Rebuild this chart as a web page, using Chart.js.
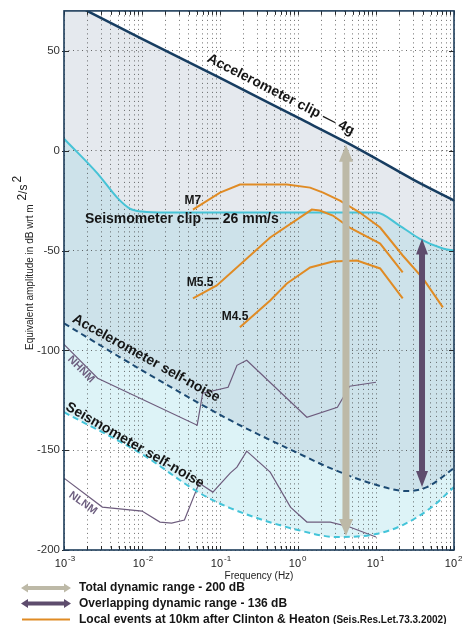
<!DOCTYPE html>
<html>
<head>
<meta charset="utf-8">
<script src="https://cdn.jsdelivr.net/npm/chart.js@4.4.1/dist/chart.umd.min.js"></script>
<style>
  html, body { margin: 0; padding: 0; background: #fff; }
  #wrap { width: 470px; height: 624px; }
</style>
</head>
<body>
<div id="wrap"><canvas id="chart" width="470" height="624"></canvas></div>
<script>
// 데이터 (frequency in Hz, amplitude in dB)
var accClipF = [0.001, 0.01, 0.1, 1, 4, 10, 30, 100];
var accClipDb = [76, 56, 36.5, 16.5, 4.5, -4, -14.5, -25];

var seisClipF = [0.001, 0.0027, 0.0048, 0.007, 0.01, 0.02, 10, 20, 36, 72, 100];
var seisClipDb = [6, -11.5, -23.5, -29, -30.5, -31, -31, -37.5, -44, -49, -50];

var accNoiseF = [0.001, 0.01, 0.135, 1, 2.6, 8.5, 25, 45, 100];
var accNoiseDb = [-86.5, -110, -135, -151.5, -159, -166.5, -170.5, -168.5, -159];

var seisNoiseF = [0.001, 0.01, 0.055, 0.135, 1, 3.2, 10, 22, 50, 100];
var seisNoiseDb = [-131, -152, -171.5, -179, -190, -193.5, -192, -187.5, -179, -168.5];

var nhnmF = [0.001, 0.0027, 0.051, 0.06, 0.127, 0.165, 0.22, 1.3, 3.2, 4.6, 10];
var nhnmDb = [-97, -114, -137.5, -121.5, -118.5, -107.5, -105, -133.5, -128.5, -118, -116];

var nlnmF = [0.001, 0.0031, 0.01, 0.017, 0.024, 0.035, 0.054, 0.081, 0.135, 0.165, 0.22, 0.44, 0.8, 1.3, 2.6, 4.6, 10];
var nlnmDb = [-164, -178.5, -180.5, -186, -186.5, -185, -166.5, -171, -161.5, -158.5, -150.5, -161, -178.5, -186, -186, -188.5, -193.5];

var m7F = [0.045, 0.1, 0.18, 0.72, 1.43, 2.1, 3.45, 6.2, 11.3, 22, 40, 72];
var m7Db = [-29.5, -21, -17, -17, -18.5, -21, -25, -31, -38.5, -52.5, -64, -78.5];

var m55F = [0.045, 0.091, 0.44, 1.5, 1.9, 2.8, 4.6, 11.3, 22];
var m55Db = [-74, -67.5, -43.5, -29.5, -30, -32.5, -38.5, -46.5, -61];

var m45F = [0.18, 0.44, 0.72, 1.43, 2.8, 5.7, 11.3, 22];
var m45Db = [-88.5, -75, -66.5, -58.5, -55.5, -55, -59, -74];

var totalRangeF = 4.12;
var totalRangeDb = [3, -193];
var overlapRangeF = 38.9;
var overlapRangeDb = [-44, -168.5];

var yTicks = [-200, -150, -100, -50, 0, 50];
var xDecades = [-3, -2, -1, 0, 1, 2];

function pts(f, d) {
    var out = [];
    for (var i = 0; i < f.length; i++) out.push({x: f[i], y: d[i]});
    return out;
}

var FONT = "'Liberation Sans', Arial, sans-serif";

function arrow(ctx, x, y1, y2, shaft, headW, headL, color, horiz) {
    // 양쪽 화살표
    ctx.save();
    ctx.fillStyle = color;
    ctx.beginPath();
    if (!horiz) {
        var top = Math.min(y1, y2), bot = Math.max(y1, y2);
        ctx.moveTo(x, top);
        ctx.lineTo(x + headW / 2, top + headL);
        ctx.lineTo(x + shaft / 2, top + headL);
        ctx.lineTo(x + shaft / 2, bot - headL);
        ctx.lineTo(x + headW / 2, bot - headL);
        ctx.lineTo(x, bot);
        ctx.lineTo(x - headW / 2, bot - headL);
        ctx.lineTo(x - shaft / 2, bot - headL);
        ctx.lineTo(x - shaft / 2, top + headL);
        ctx.lineTo(x - headW / 2, top + headL);
    } else {
        var l = Math.min(y1, y2), r = Math.max(y1, y2), y = x;
        ctx.moveTo(l, y);
        ctx.lineTo(l + headL, y - headW / 2);
        ctx.lineTo(l + headL, y - shaft / 2);
        ctx.lineTo(r - headL, y - shaft / 2);
        ctx.lineTo(r - headL, y - headW / 2);
        ctx.lineTo(r, y);
        ctx.lineTo(r - headL, y + headW / 2);
        ctx.lineTo(r - headL, y + shaft / 2);
        ctx.lineTo(l + headL, y + shaft / 2);
        ctx.lineTo(l + headL, y + headW / 2);
    }
    ctx.closePath();
    ctx.fill();
    ctx.restore();
}

function label(ctx, text, x, y, deg, font, color, align) {
    ctx.save();
    ctx.translate(x, y);
    ctx.rotate(deg * Math.PI / 180);
    ctx.font = font;
    ctx.fillStyle = color;
    ctx.textAlign = align || 'center';
    ctx.textBaseline = 'middle';
    ctx.fillText(text, 0, 0);
    ctx.restore();
}

var notes = [
    {t: 'Accelerometer clip \u2014 4g', f: 0.6, db: 28, a: 27, align: 'center'},
    {t: 'Seismometer clip \u2014 26 mm/s', f: 0.00186, db: -34.5, a: 0, align: 'left'},
    {t: 'Accelerometer self-noise', f: 0.0113, db: -104, a: 29, align: 'center'},
    {t: 'Seismometer self-noise', f: 0.0081, db: -147.5, a: 30, align: 'center'}
];

var annot = {
    id: 'annot',
    afterDatasetsDraw: function (chart) {
        var ctx = chart.ctx, xs = chart.scales.x, ys = chart.scales.y, ca = chart.chartArea;

        // 화살표
        arrow(ctx, xs.getPixelForValue(totalRangeF), ys.getPixelForValue(totalRangeDb[0]),
            ys.getPixelForValue(totalRangeDb[1]), 7, 14, 17, '#bdb9a7');
        arrow(ctx, xs.getPixelForValue(overlapRangeF), ys.getPixelForValue(overlapRangeDb[0]),
            ys.getPixelForValue(overlapRangeDb[1]), 6, 12, 16, '#5e4c6d');

        // 곡선 라벨
        notes.forEach(function (n) {
            label(ctx, n.t, xs.getPixelForValue(n.f), ys.getPixelForValue(n.db), n.a,
                'bold 14px ' + FONT, '#151515', n.align);
        });
        label(ctx, 'NHNM', xs.getPixelForValue(0.00165), ys.getPixelForValue(-109.5), 45,
            'bold 11px ' + FONT, '#6e5f80');
        label(ctx, 'NLNM', xs.getPixelForValue(0.00175), ys.getPixelForValue(-176.5), 35,
            'bold 11px ' + FONT, '#6e5f80');
        label(ctx, 'M7', xs.getPixelForValue(0.045), ys.getPixelForValue(-25), 0, 'bold 12px ' + FONT, '#151515');
        label(ctx, 'M5.5', xs.getPixelForValue(0.0555), ys.getPixelForValue(-66.25), 0, 'bold 12px ' + FONT, '#151515');
        label(ctx, 'M4.5', xs.getPixelForValue(0.1556), ys.getPixelForValue(-83), 0, 'bold 12px ' + FONT, '#151515');

        // 눈금
        ctx.save();
        ctx.strokeStyle = '#2a2a2a';
        ctx.lineWidth = 1;
        xs.ticks.forEach(function (t) {
            var px = Math.round(xs.getPixelForValue(t.value)) + 0.5;
            var len = 4;
            ctx.beginPath();
            ctx.moveTo(px, ca.bottom); ctx.lineTo(px, ca.bottom - len);
            ctx.moveTo(px, ca.top); ctx.lineTo(px, ca.top + len);
            ctx.stroke();
        });
        yTicks.forEach(function (v) {
            var py = Math.round(ys.getPixelForValue(v)) + 0.5;
            ctx.beginPath();
            ctx.moveTo(ca.left - 2, py); ctx.lineTo(ca.left + 5, py);
            ctx.moveTo(ca.right, py); ctx.lineTo(ca.right - 5, py);
            ctx.stroke();
        });
        ctx.restore();

        // 테두리
        ctx.save();
        ctx.strokeStyle = '#1d3c5a';
        ctx.lineWidth = 1.6;
        ctx.strokeRect(ca.left, ca.top, ca.right - ca.left, ca.bottom - ca.top);
        ctx.restore();

        // x 눈금 라벨 10^n
        ctx.save();
        ctx.fillStyle = '#222';
        ctx.textBaseline = 'alphabetic';
        xDecades.forEach(function (e) {
            var px = xs.getPixelForValue(Math.pow(10, e));
            ctx.font = '11px ' + FONT;
            ctx.textAlign = 'right';
            ctx.fillText('10', px + 3, 567);
            ctx.font = '8px ' + FONT;
            ctx.textAlign = 'left';
            ctx.fillText(String(e), px + 4, 561);
        });
        ctx.font = '10px ' + FONT;
        ctx.textAlign = 'center';
        ctx.fillText('Frequency (Hz)', 259, 579);
        ctx.restore();

        // y 축 제목
        ctx.save();
        ctx.translate(30, 350);
        ctx.rotate(-Math.PI / 2);
        ctx.fillStyle = '#222';
        ctx.textBaseline = 'middle';
        ctx.textAlign = 'left';
        ctx.font = '10px ' + FONT;
        var main = 'Equivalent amplitude in dB wrt m ';
        ctx.fillText(main, 0, 0);
        var w = ctx.measureText(main).width;
        ctx.font = '12px ' + FONT;
        ctx.fillText('2', w + 1, -7);
        var w2 = ctx.measureText('2').width;
        ctx.fillText('/s', w + 1 + w2, -6);
        var w3 = ctx.measureText('/s').width;
        ctx.fillText('2', w + 3 + w2 + w3, -12);
        ctx.restore();

        // 범례
        ctx.save();
        arrow(ctx, 588, 21, 71, 4, 9, 7, '#bdb9a7', true);
        arrow(ctx, 603.5, 21, 71, 4, 9, 7, '#5e4c6d', true);
        ctx.strokeStyle = '#e08b24';
        ctx.lineWidth = 2;
        ctx.beginPath();
        ctx.moveTo(22, 619.5); ctx.lineTo(70, 619.5);
        ctx.stroke();
        ctx.fillStyle = '#151515';
        ctx.textAlign = 'left';
        ctx.textBaseline = 'middle';
        ctx.font = 'bold 12px ' + FONT;
        ctx.fillText('Total dynamic range - 200 dB', 79, 588);
        ctx.fillText('Overlapping dynamic range - 136 dB', 79, 603.5);
        var txt = 'Local events at 10km after Clinton & Heaton ';
        ctx.fillText(txt, 79, 619.5);
        var tw = ctx.measureText(txt).width;
        ctx.font = 'bold 10px ' + FONT;
        ctx.fillText('(Seis.Res.Let.73.3.2002)', 79 + tw, 620);
        ctx.restore();
    }
};

window.onload = function () {
    var ctx = document.getElementById('chart').getContext('2d');
    var gridColor = 'rgba(60,60,60,0.75)';

    window.noiseChart = new Chart(ctx, {
        type: 'line',
        data: {
            datasets: [
                {data: pts(accClipF, accClipDb), borderColor: '#173d61', borderWidth: 2.5,
                    fill: {target: 1}, backgroundColor: '#e5e9ee', cubicInterpolationMode: 'monotone'},
                {data: pts(seisClipF, seisClipDb), borderColor: '#46c3d6', borderWidth: 2,
                    fill: {target: 2}, backgroundColor: '#cde2ea', cubicInterpolationMode: 'monotone'},
                {data: pts(accNoiseF, accNoiseDb), borderColor: '#1c4a73', borderWidth: 2, borderDash: [6, 4],
                    fill: {target: 3}, backgroundColor: '#ddf3f7', cubicInterpolationMode: 'monotone'},
                {data: pts(seisNoiseF, seisNoiseDb), borderColor: '#43c4d9', borderWidth: 2, borderDash: [6, 4],
                    fill: false, cubicInterpolationMode: 'monotone'},
                {data: pts(nhnmF, nhnmDb), borderColor: '#6d5c7d', borderWidth: 1.2, fill: false},
                {data: pts(nlnmF, nlnmDb), borderColor: '#6d5c7d', borderWidth: 1.2, fill: false},
                {data: pts(m7F, m7Db), borderColor: '#e08b24', borderWidth: 2, fill: false, order: -1},
                {data: pts(m55F, m55Db), borderColor: '#e08b24', borderWidth: 2, fill: false, order: -1},
                {data: pts(m45F, m45Db), borderColor: '#e08b24', borderWidth: 2, fill: false, order: -1}
            ]
        },
        options: {
            responsive: false,
            animation: false,
            layout: {padding: {top: 10, right: 16, left: 0, bottom: 0}},
            elements: {point: {radius: 0}, line: {tension: 0}},
            plugins: {
                legend: {display: false},
                tooltip: {enabled: false},
                filler: {drawTime: 'beforeDraw'}
            },
            scales: {
                x: {
                    type: 'logarithmic', min: 0.001, max: 100,
                    afterBuildTicks: function (scale) {
                        var t = [];
                        for (var e = -3; e <= 2; e++) {
                            for (var m = 1; m < 10; m++) {
                                var v = m * Math.pow(10, e);
                                if (v <= 100.0001) t.push({value: v});
                            }
                        }
                        scale.ticks = t;
                    },
                    afterFit: function (scale) { scale.height = 74; },
                    ticks: {display: false},
                    grid: {color: gridColor, lineWidth: 1, drawTicks: false},
                    border: {display: false, dash: [1, 3.5]}
                },
                y: {
                    type: 'linear', min: -200, max: 70,
                    afterFit: function (scale) { scale.width = 64; },
                    ticks: {stepSize: 50, includeBounds: false, padding: 4, color: '#333',
                        font: {family: FONT, size: 11.5}},
                    grid: {color: gridColor, lineWidth: 1, drawTicks: false},
                    border: {display: false, dash: [1, 3.5]}
                }
            }
        },
        plugins: [annot]
    });
};
</script>
</body>
</html>
